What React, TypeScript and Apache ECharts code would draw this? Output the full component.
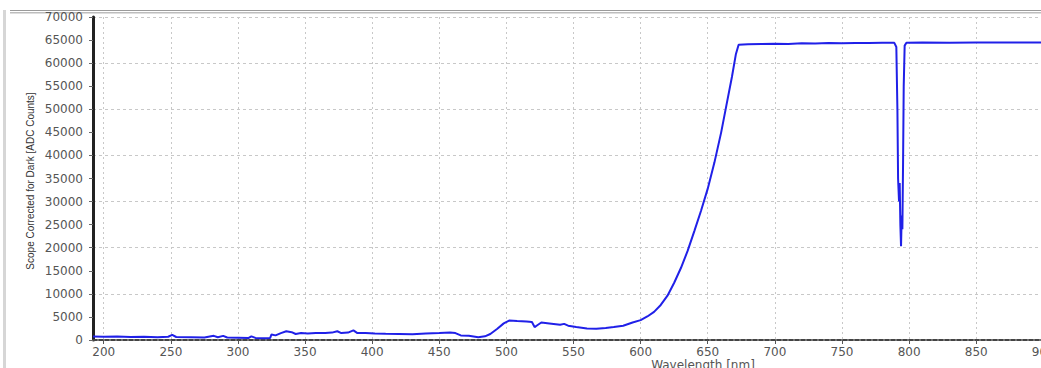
import React, { useEffect, useRef } from "react";
import * as echarts from "echarts";

const wavelengths = [
  192, 200, 210, 220, 230, 240, 248, 251, 254, 265, 275, 282, 285, 289, 292, 300, 308, 310, 313, 320,
  324, 325, 328, 332, 336, 340, 343, 347, 352, 358, 365, 370, 374, 377, 382, 386, 389, 395, 402, 410,
  420, 430, 440, 450, 458, 462, 466, 472, 479, 484, 488, 493, 498, 502, 508, 515, 519, 521, 523, 526,
  532, 540, 543, 546, 552, 560, 567, 574, 580, 587, 594, 600, 605, 610, 615, 620, 625, 630, 635, 640,
  645, 650, 655, 660, 664, 668, 671, 673, 680, 690, 700, 710, 720, 730, 740, 750, 760, 770, 780, 789,
  790.5, 791.3, 791.8, 792.5, 793, 793.5, 794, 794.5, 795, 795.5, 796, 796.7, 798, 810, 830, 850, 870, 890,
  910, 940,
];

const counts = [
  750, 700, 750, 650, 700, 600, 700, 1100, 650, 600, 550, 900, 600, 900, 550, 500, 450, 800, 450, 400,
  450, 1200, 1000, 1500, 1900, 1700, 1300, 1500, 1400, 1500, 1500, 1600, 1900, 1500, 1600, 2100, 1500, 1500, 1400, 1350,
  1300, 1250, 1400, 1500, 1600, 1500, 1000, 900, 600, 800, 1300, 2400, 3600, 4200, 4100, 4000, 3900, 2800, 3200, 3800,
  3600, 3300, 3500, 3100, 2800, 2500, 2450, 2600, 2800, 3100, 3800, 4300, 5100, 6100, 7600, 9600, 12400, 15600, 19300, 23600,
  28000, 32800, 38500, 45000, 51000, 57000, 62000, 64000, 64100, 64150, 64200, 64150, 64300, 64250, 64350, 64300, 64350, 64350, 64400, 64400,
  63500, 50000, 35000, 30000, 34000, 25000, 20300, 27000, 24000, 38000, 55000, 63800, 64400, 64450, 64400, 64500, 64450, 64500,
  64500, 64500,
];

const xTickValues = [200, 250, 300, 350, 400, 450, 500, 550, 600, 650, 700, 750, 800, 850, 900];

const yAxisTitle = "Scope Corrected for Dark [ADC Counts]";
const xAxisTitle = "Wavelength [nm]";

export default function App() {
  const ref = useRef<HTMLDivElement>(null);

  useEffect(() => {
    if (!ref.current) return;
    const chart = echarts.init(ref.current, null, { renderer: "svg" });
    const gridColor = "#c8c8c8";
    chart.setOption({
      animation: false,
      backgroundColor: "#ffffff",
      grid: { left: 93, top: 17, width: 1004, height: 323 },
      xAxis: [
        {
          type: "value",
          min: 192,
          max: 940,
          axisLine: { show: true, onZero: false, lineStyle: { color: "#444", width: 2, type: [4, 2] } },
          axisTick: { show: true, customValues: xTickValues, length: 4, lineStyle: { color: "#555" } },
          axisLabel: {
            show: true,
            customValues: xTickValues,
            formatter: (v: number) => String(v),
            fontFamily: "DejaVu Sans",
            fontSize: 12,
            color: "#555",
            margin: 6,
          },
          splitLine: { show: true, lineStyle: { color: gridColor, type: [2, 3], width: 1 } },
        },
      ],
      yAxis: [
        {
          type: "value",
          min: 0,
          max: 70000,
          interval: 5000,
          axisLine: { show: true, lineStyle: { color: "#222", width: 3 } },
          axisTick: { show: true, length: 4, lineStyle: { color: "#666" } },
          axisLabel: {
            formatter: (v: number) => String(v),
            fontFamily: "DejaVu Sans",
            fontSize: 12,
            color: "#555",
            margin: 10,
          },
          splitLine: { show: false },
        },
        {
          type: "value",
          position: "right",
          min: 0,
          max: 70000,
          interval: 10000,
          axisLine: { show: false },
          axisTick: { show: false },
          axisLabel: { show: false },
          splitLine: { show: true, lineStyle: { color: gridColor, type: [3, 3], width: 1 } },
        },
      ],
      graphic: [
        { type: "rect", shape: { x: 10, y: 10, width: 1100, height: 1 }, style: { fill: "#9a9a9a" }, silent: true },
        { type: "rect", shape: { x: 10, y: 12, width: 1100, height: 1.5 }, style: { fill: "#bdbdbd" }, silent: true },
        { type: "rect", shape: { x: 3, y: 10, width: 3, height: 360 }, style: { fill: "#d6d6d6" }, silent: true },
        {
          type: "text",
          x: 30,
          y: 181,
          rotation: Math.PI / 2,
          style: {
            text: yAxisTitle,
            fontFamily: "Liberation Sans",
            fontSize: 10,
            fill: "#333",
            align: "center",
            verticalAlign: "middle",
          },
          silent: true,
        },
        {
          type: "text",
          x: 703,
          y: 359,
          style: {
            text: xAxisTitle,
            fontFamily: "DejaVu Sans",
            fontSize: 12,
            fill: "#555",
            align: "center",
            verticalAlign: "top",
          },
          silent: true,
        },
      ],
      series: [
        {
          type: "line",
          xAxisIndex: 0,
          yAxisIndex: 0,
          data: wavelengths.map((w, i) => [w, counts[i]]),
          showSymbol: false,
          lineStyle: { color: "#2020e8", width: 2 },
          itemStyle: { color: "#2020e8" },
        },
      ],
    });
    return () => chart.dispose();
  }, []);

  return (
    <div style={{ position: "absolute", left: 0, top: 0, width: 1041, height: 368, overflow: "hidden", background: "#fff" }}>
      <div ref={ref} style={{ width: 1120, height: 368 }} />
    </div>
  );
}
